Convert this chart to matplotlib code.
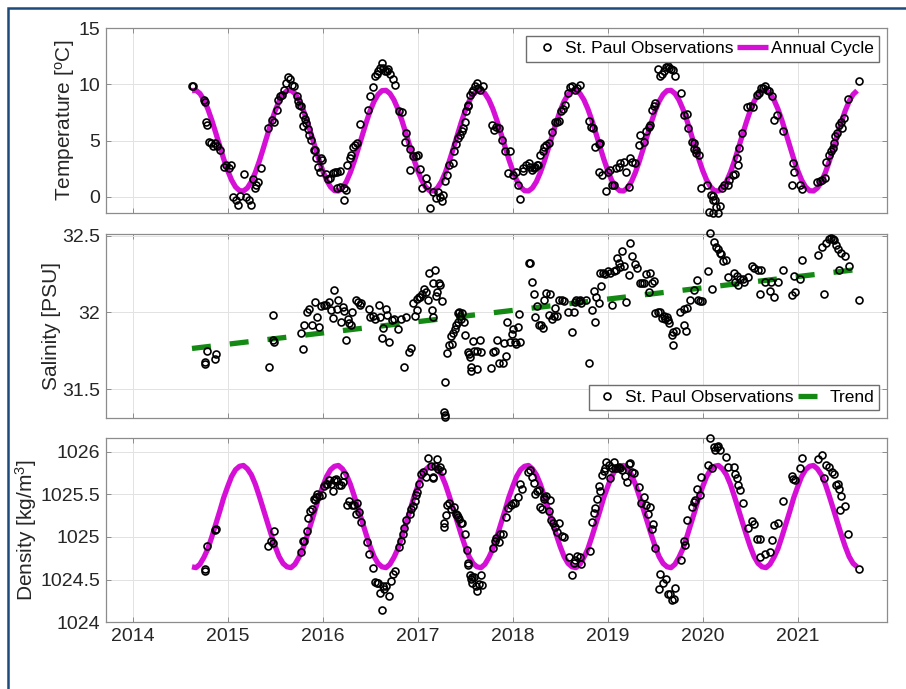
import numpy as np
import matplotlib
matplotlib.use('Agg')
import matplotlib.pyplot as plt
from matplotlib.patches import Rectangle

plt.rcParams['font.family'] = 'Liberation Sans'
plt.rcParams['mathtext.fontset'] = 'custom'
plt.rcParams['mathtext.rm'] = 'Liberation Sans'
plt.rcParams['mathtext.it'] = 'Liberation Sans:italic'

# St. Paul temperature observations (decimal year, degC)
temp_year = [
    2014.625, 2014.64, 2014.755, 2014.765, 2014.775, 2014.78, 2014.80, 2014.82, 2014.845, 2014.87, 2014.89, 2014.92,
    2014.96, 2014.985, 2015.01, 2015.035, 2015.06, 2015.09, 2015.105, 2015.13, 2015.17, 2015.195, 2015.22, 2015.245,
    2015.265, 2015.29, 2015.30, 2015.325, 2015.35, 2015.43, 2015.465, 2015.485, 2015.52, 2015.535, 2015.55, 2015.57,
    2015.595, 2015.615, 2015.64, 2015.66, 2015.675, 2015.70, 2015.73, 2015.745, 2015.755, 2015.77, 2015.79, 2015.795,
    2015.81, 2015.83, 2015.845, 2015.86, 2015.875, 2015.905, 2015.92, 2015.935, 2015.955, 2015.97, 2015.985, 2015.995,
    2016.04, 2016.06, 2016.08, 2016.105, 2016.13, 2016.155, 2016.18, 2016.15, 2016.185, 2016.22, 2016.25, 2016.225,
    2016.255, 2016.285, 2016.30, 2016.325, 2016.345, 2016.36, 2016.395, 2016.48, 2016.50, 2016.535, 2016.55, 2016.57,
    2016.585, 2016.605, 2016.62, 2016.64, 2016.655, 2016.675, 2016.69, 2016.71, 2016.74, 2016.76, 2016.80, 2016.835,
    2016.88, 2016.87, 2016.92, 2016.955, 2016.985, 2017.0, 2016.92, 2017.025, 2017.045, 2017.09, 2017.10, 2017.125,
    2017.165, 2017.19, 2017.215, 2017.24, 2017.27, 2017.255, 2017.29, 2017.31, 2017.335, 2017.37, 2017.385, 2017.40,
    2017.43, 2017.445, 2017.465, 2017.48, 2017.495, 2017.51, 2017.525, 2017.535, 2017.55, 2017.57, 2017.585, 2017.605,
    2017.62, 2017.64, 2017.655, 2017.69, 2017.78, 2017.805, 2017.83, 2017.86, 2017.885, 2017.92, 2017.97, 2017.955,
    2018.0, 2018.04, 2018.06, 2018.075, 2018.105, 2018.11, 2018.145, 2018.17, 2018.185, 2018.20, 2018.22, 2018.235,
    2018.255, 2018.27, 2018.29, 2018.32, 2018.335, 2018.355, 2018.38, 2018.415, 2018.45, 2018.465, 2018.49, 2018.505,
    2018.53, 2018.55, 2018.585, 2018.605, 2018.63, 2018.655, 2018.68, 2018.71, 2018.80, 2018.825, 2018.85, 2018.87,
    2018.905, 2018.92, 2018.905, 2018.94, 2018.985, 2019.0, 2019.03, 2019.045, 2019.07, 2019.09, 2019.115, 2019.135,
    2019.17, 2019.195, 2019.22, 2019.24, 2019.255, 2019.29, 2019.325, 2019.34, 2019.385, 2019.405, 2019.43, 2019.45,
    2019.465, 2019.485, 2019.50, 2019.535, 2019.555, 2019.57, 2019.595, 2019.615, 2019.64, 2019.65, 2019.665, 2019.685,
    2019.71, 2019.77, 2019.80, 2019.83, 2019.85, 2019.885, 2019.905, 2019.91, 2019.93, 2019.935, 2019.965, 2019.98,
    2020.05, 2020.085, 2020.105, 2020.11, 2020.13, 2020.145, 2020.07, 2020.105, 2020.165, 2020.185, 2020.20, 2020.22,
    2020.265, 2020.275, 2020.315, 2020.345, 2020.37, 2020.36, 2020.385, 2020.415, 2020.47, 2020.495, 2020.535, 2020.575,
    2020.595, 2020.61, 2020.63, 2020.66, 2020.675, 2020.70, 2020.725, 2020.75, 2020.78, 2020.85, 2020.95, 2020.96,
    2020.94, 2021.02, 2021.045, 2021.20, 2021.23, 2021.255, 2021.29, 2021.30, 2021.325, 2021.35, 2021.37, 2021.385,
    2021.395, 2021.41, 2021.44, 2021.455, 2021.465, 2021.49, 2021.535, 2021.65,
]
temp_obs = [
    9.9, 9.9, 8.65, 8.45, 6.7, 6.4, 4.85, 4.8, 4.5, 4.8, 4.5, 4.2,
    2.7, 2.85, 2.55, 2.8, -0.05, -0.25, -0.75, 0.1, 2.0, 0.0, -0.3, -0.75,
    1.6, 0.75, 1.05, 1.35, 2.6, 6.1, 6.85, 6.7, 7.75, 8.6, 8.95, 9.05,
    9.55, 10.15, 10.65, 10.45, 9.95, 9.9, 8.95, 8.5, 8.2, 8.05, 6.3, 7.3,
    6.9, 6.6, 6.0, 5.5, 5.1, 4.2, 4.2, 3.45, 2.7, 2.25, 3.45, 3.3,
    2.0, 1.6, 1.65, 2.1, 2.25, 2.25, 2.35, 0.8, 0.85, 0.75, 0.6, -0.3,
    2.85, 3.45, 3.75, 4.4, 4.6, 4.8, 6.5, 7.7, 8.95, 9.75, 10.75, 10.9,
    11.2, 11.5, 11.95, 11.45, 11.2, 11.2, 11.35, 10.95, 10.45, 9.95, 7.6, 7.55,
    5.7, 4.9, 4.3, 3.6, 3.6, 3.75, 2.4, 2.45, 0.75, 1.65, 1.1, -1.0,
    0.45, -0.1, 0.45, 0.0, 0.15, -0.4, 1.4, 1.95, 2.85, 3.0, 4.05, 4.7,
    5.2, 5.5, 5.9, 6.1, 6.7, 7.6, 8.05, 8.2, 9.1, 9.3, 9.55, 9.85,
    10.15, 9.7, 9.55, 9.85, 6.4, 5.95, 6.25, 6.1, 5.05, 4.1, 4.05, 2.1,
    1.95, 2.25, 1.05, -0.15, 2.3, 2.55, 2.85, 3.0, 2.7, 2.4, 2.55, 2.7,
    2.85, 2.85, 3.75, 4.1, 4.4, 4.65, 4.8, 5.8, 6.7, 6.65, 6.75, 7.65,
    7.8, 8.2, 9.25, 9.75, 9.85, 9.55, 9.7, 9.95, 6.75, 6.25, 6.1, 4.4,
    4.7, 4.8, 2.25, 1.95, 0.5, 2.25, 2.4, 1.05, 1.05, 2.6, 2.7, 3.0,
    3.15, 2.25, 0.9, 3.45, 3.15, 3.0, 4.6, 5.5, 4.9, 5.9, 6.25, 6.4,
    7.75, 8.05, 8.35, 11.35, 10.75, 10.9, 11.2, 11.55, 11.65, 11.5, 11.35, 11.25,
    10.75, 9.25, 7.3, 7.35, 6.1, 4.9, 4.8, 4.3, 4.2, 3.9, 3.75, 0.8,
    1.05, 0.15, 0.1, -0.3, -0.3, -0.9, -1.3, -1.4, -1.4, -0.8, 0.75, 1.1,
    1.1, 1.5, 1.95, 2.0, 2.85, 3.45, 4.35, 5.7, 8.0, 8.1, 8.0, 9.1,
    9.25, 9.7, 9.7, 9.85, 9.55, 9.45, 8.95, 6.85, 7.3, 5.85, 3.0, 2.25,
    1.1, 1.05, 0.7, 1.35, 1.4, 1.5, 1.7, 3.1, 3.75, 4.05, 4.35, 4.8,
    5.4, 5.7, 6.4, 6.7, 6.1, 7.0, 8.75, 10.3,
]

# St. Paul salinity observations (decimal year, PSU)
sal_year = [
    2014.78, 2014.765, 2014.765, 2014.88, 2014.87, 2015.475, 2015.475, 2015.485, 2015.44, 2015.77, 2015.79, 2015.80,
    2015.835, 2015.855, 2015.89, 2015.915, 2015.94, 2015.96, 2015.985, 2016.01, 2016.04, 2016.065, 2016.09, 2016.11,
    2016.12, 2016.15, 2016.16, 2016.19, 2016.21, 2016.23, 2016.245, 2016.265, 2016.28, 2016.31, 2016.30, 2016.355,
    2016.37, 2016.39, 2016.405, 2016.485, 2016.50, 2016.535, 2016.555, 2016.59, 2016.605, 2016.62, 2016.64, 2016.665,
    2016.68, 2016.70, 2016.728, 2016.75, 2016.795, 2016.83, 2016.855, 2016.875, 2016.91, 2016.935, 2016.955, 2016.97,
    2016.99, 2016.995, 2017.015, 2017.03, 2017.05, 2017.065, 2017.085, 2017.11, 2017.12, 2017.155, 2017.165, 2017.185,
    2017.195, 2017.20, 2017.22, 2017.235, 2017.255, 2017.16, 2017.29, 2017.28, 2017.29, 2017.29, 2017.31, 2017.335,
    2017.36, 2017.35, 2017.375, 2017.395, 2017.40, 2017.43, 2017.43, 2017.44, 2017.45, 2017.46, 2017.465, 2017.49,
    2017.50, 2017.525, 2017.54, 2017.55, 2017.565, 2017.56, 2017.585, 2017.595, 2017.62, 2017.63, 2017.655, 2017.67,
    2017.775, 2017.79, 2017.81, 2017.84, 2017.855, 2017.90, 2017.91, 2017.935, 2017.945, 2017.97, 2017.99, 2018.0,
    2018.02, 2018.035, 2018.055, 2018.07, 2018.08, 2018.17, 2018.187, 2018.204, 2018.222, 2018.24, 2018.257, 2018.274,
    2018.30, 2018.32, 2018.334, 2018.355, 2018.38, 2018.39, 2018.415, 2018.432, 2018.45, 2018.467, 2018.485, 2018.52,
    2018.544, 2018.58, 2018.625, 2018.642, 2018.66, 2018.67, 2018.695, 2018.712, 2018.72, 2018.776, 2018.80, 2018.835,
    2018.853, 2018.87, 2018.88, 2018.905, 2018.916, 2018.93, 2018.95, 2018.975, 2019.0, 2019.02, 2019.046, 2019.07,
    2019.09, 2019.098, 2019.116, 2019.133, 2019.15, 2019.175, 2019.196, 2019.22, 2019.238, 2019.256, 2019.29, 2019.308,
    2019.336, 2019.36, 2019.386, 2019.407, 2019.43, 2019.45, 2019.466, 2019.484, 2019.50, 2019.525, 2019.55, 2019.57,
    2019.59, 2019.605, 2019.625, 2019.64, 2019.65, 2019.676, 2019.69, 2019.687, 2019.72, 2019.765, 2019.806, 2019.827,
    2019.80, 2019.834, 2019.87, 2019.905, 2019.94, 2019.946, 2019.975, 2019.99, 2020.06, 2020.095, 2020.08, 2020.115,
    2020.143, 2020.157, 2020.178, 2020.195, 2020.213, 2020.248, 2020.27, 2020.325, 2020.34, 2020.36, 2020.375, 2020.395,
    2020.42, 2020.437, 2020.48, 2020.52, 2020.537, 2020.58, 2020.60, 2020.61, 2020.658, 2020.71, 2020.72, 2020.755,
    2020.79, 2020.845, 2020.94, 2020.96, 2020.976, 2021.022, 2021.046, 2021.21, 2021.254, 2021.30, 2021.335, 2021.35,
    2021.37, 2021.385, 2021.405, 2021.42, 2021.455, 2021.50, 2021.44, 2021.545, 2021.28, 2021.65,
]
sal_obs = [
    31.75, 31.68, 31.665, 31.73, 31.695, 31.985, 31.82, 31.805, 31.645, 31.865, 31.76, 31.92,
    32.0, 32.02, 31.92, 32.065, 31.97, 31.905, 32.04, 32.05, 32.05, 32.07, 32.015, 31.965,
    32.145, 32.025, 32.08, 31.94, 32.035, 32.01, 31.82, 31.96, 31.93, 32.0, 31.915, 32.08,
    32.07, 32.05, 32.06, 32.025, 31.97, 31.98, 31.955, 32.05, 31.97, 31.835, 31.9, 32.025,
    31.985, 31.81, 31.95, 31.96, 31.89, 31.96, 31.645, 31.97, 31.74, 31.765, 32.06, 31.98,
    32.015, 32.09, 32.1, 32.1, 32.12, 32.155, 32.135, 32.08, 32.255, 32.015, 32.19, 32.275,
    32.11, 32.135, 32.19, 32.18, 32.075, 31.97, 31.545, 31.35, 31.33, 31.315, 31.735, 31.79,
    31.795, 31.845, 31.865, 31.895, 31.92, 31.935, 31.995, 32.005, 31.975, 31.955, 31.995, 31.935,
    31.855, 31.745, 31.73, 31.71, 31.645, 31.615, 31.815, 31.75, 31.63, 31.75, 31.82, 31.74,
    31.64, 31.74, 31.75, 31.82, 31.67, 31.67, 31.8, 31.715, 31.94, 31.805, 31.86, 31.89,
    31.805, 31.795, 31.905, 31.99, 31.805, 32.32, 32.325, 32.2, 32.12, 31.97, 32.04, 31.92,
    31.915, 31.9, 32.08, 32.13, 31.985, 32.12, 31.96, 31.975, 32.03, 31.975, 32.08, 32.08,
    32.075, 32.0, 31.87, 32.0, 32.07, 32.08, 32.075, 32.08, 32.06, 32.08, 31.67, 32.015,
    32.14, 31.94, 32.1, 32.06, 32.255, 32.17, 32.26, 32.25, 32.27, 32.255, 32.05, 32.27,
    32.28, 32.355, 32.32, 32.295, 32.4, 32.3, 32.07, 32.245, 32.45, 32.37, 32.315, 32.29,
    32.19, 32.19, 32.19, 32.25, 32.135, 32.26, 32.19, 32.205, 31.995, 32.005, 32.005, 31.965,
    31.98, 31.955, 31.97, 31.95, 31.93, 31.85, 31.875, 31.785, 31.88, 32.0, 31.915, 31.88,
    32.025, 32.03, 32.08, 32.145, 32.21, 32.08, 32.075, 32.075, 32.27, 32.155, 32.515, 32.46,
    32.43, 32.415, 32.39, 32.38, 32.335, 32.34, 32.23, 32.26, 32.2, 32.24, 32.18, 32.22,
    32.22, 32.2, 32.23, 32.3, 32.29, 32.28, 32.12, 32.28, 32.2, 32.14, 32.2, 32.1,
    32.2, 32.275, 32.115, 32.235, 32.135, 32.215, 32.34, 32.375, 32.43, 32.45, 32.48, 32.485,
    32.48, 32.475, 32.44, 32.415, 32.385, 32.365, 32.275, 32.30, 32.12, 32.08,
]

# St. Paul density observations (decimal year, kg/m^3)
dens_year = [
    2014.765, 2014.765, 2014.78, 2014.87, 2014.88, 2015.43, 2015.455, 2015.475, 2015.485, 2015.77, 2015.79, 2015.805,
    2015.84, 2015.85, 2015.87, 2015.885, 2015.905, 2015.92, 2015.93, 2015.945, 2015.965, 2015.99, 2016.016, 2016.037,
    2016.05, 2016.072, 2016.085, 2016.105, 2016.12, 2016.14, 2016.155, 2016.175, 2016.19, 2016.21, 2016.225, 2016.255,
    2016.28, 2016.307, 2016.33, 2016.35, 2016.365, 2016.386, 2016.40, 2016.47, 2016.49, 2016.526, 2016.55, 2016.57,
    2016.587, 2016.605, 2016.634, 2016.62, 2016.645, 2016.668, 2016.703, 2016.717, 2016.745, 2016.763, 2016.80, 2016.825,
    2016.847, 2016.86, 2016.88, 2016.915, 2016.93, 2016.95, 2016.973, 2016.984, 2016.998, 2017.018, 2017.032, 2017.053,
    2017.088, 2017.113, 2017.137, 2017.158, 2017.165, 2017.183, 2017.20, 2017.218, 2017.235, 2017.253, 2017.278, 2017.278,
    2017.30, 2017.305, 2017.33, 2017.355, 2017.38, 2017.40, 2017.415, 2017.425, 2017.44, 2017.457, 2017.467, 2017.50,
    2017.515, 2017.525, 2017.535, 2017.55, 2017.56, 2017.576, 2017.57, 2017.595, 2017.612, 2017.63, 2017.647, 2017.665,
    2017.68, 2017.797, 2017.815, 2017.83, 2017.86, 2017.872, 2017.90, 2017.93, 2017.953, 2017.978, 2018.007, 2018.025,
    2018.06, 2018.077, 2018.095, 2018.16, 2018.18, 2018.205, 2018.22, 2018.24, 2018.256, 2018.273, 2018.29, 2018.308,
    2018.326, 2018.333, 2018.354, 2018.378, 2018.388, 2018.40, 2018.42, 2018.445, 2018.462, 2018.49, 2018.515, 2018.54,
    2018.59, 2018.625, 2018.642, 2018.66, 2018.677, 2018.705, 2018.72, 2018.81, 2018.835, 2018.853, 2018.87, 2018.888,
    2018.905, 2018.923, 2018.94, 2018.958, 2018.975, 2018.986, 2019.01, 2019.028, 2019.046, 2019.063, 2019.08, 2019.098,
    2019.116, 2019.133, 2019.15, 2019.186, 2019.203, 2019.22, 2019.238, 2019.256, 2019.28, 2019.326, 2019.35, 2019.385,
    2019.407, 2019.42, 2019.45, 2019.466, 2019.476, 2019.50, 2019.536, 2019.554, 2019.582, 2019.617, 2019.64, 2019.66,
    2019.676, 2019.694, 2019.71, 2019.77, 2019.806, 2019.816, 2019.84, 2019.887, 2019.905, 2019.922, 2019.94, 2019.968,
    2019.983, 2020.06, 2020.096, 2020.08, 2020.115, 2020.13, 2020.15, 2020.165, 2020.185, 2020.248, 2020.27, 2020.325,
    2020.34, 2020.36, 2020.375, 2020.395, 2020.42, 2020.48, 2020.52, 2020.537, 2020.572, 2020.607, 2020.60, 2020.66,
    2020.71, 2020.73, 2020.755, 2020.79, 2020.845, 2020.94, 2020.956, 2020.976, 2021.02, 2021.046, 2021.21, 2021.254,
    2021.30, 2021.335, 2021.36, 2021.385, 2021.28, 2021.405, 2021.42, 2021.44, 2021.455, 2021.50, 2021.45, 2021.535,
    2021.65,
]
dens_obs = [
    1024.625, 1024.595, 1024.9, 1025.08, 1025.095, 1024.89, 1024.955, 1024.925, 1025.07, 1024.82, 1024.955, 1024.955,
    1025.065, 1025.22, 1025.305, 1025.33, 1025.445, 1025.435, 1025.475, 1025.5, 1025.485, 1025.49, 1025.6, 1025.62,
    1025.625, 1025.67, 1025.62, 1025.54, 1025.67, 1025.68, 1025.655, 1025.61, 1025.61, 1025.65, 1025.73, 1025.37,
    1025.42, 1025.37, 1025.37, 1025.265, 1025.4, 1025.29, 1025.18, 1024.94, 1024.8, 1024.64, 1024.475, 1024.455,
    1024.465, 1024.34, 1024.43, 1024.145, 1024.385, 1024.42, 1024.31, 1024.48, 1024.56, 1024.6, 1024.885, 1024.95,
    1025.03, 1025.1, 1025.2, 1025.27, 1025.33, 1025.36, 1025.42, 1025.49, 1025.53, 1025.62, 1025.735, 1025.76,
    1025.71, 1025.93, 1025.83, 1025.7, 1025.69, 1025.83, 1025.92, 1025.8, 1025.82, 1025.78, 1025.16, 1025.12,
    1025.26, 1025.37, 1025.4, 1025.33, 1025.35, 1025.265, 1025.26, 1025.24, 1025.21, 1025.17, 1025.16, 1025.03,
    1024.85, 1024.7, 1024.67, 1024.55, 1024.51, 1024.525, 1024.46, 1024.535, 1024.42, 1024.37, 1024.45, 1024.555,
    1024.44, 1024.875, 1024.955, 1024.985, 1024.94, 1025.03, 1025.04, 1025.24, 1025.345, 1025.37, 1025.395, 1025.405,
    1025.47, 1025.62, 1025.56, 1025.765, 1025.785, 1025.71, 1025.63, 1025.51, 1025.54, 1025.55, 1025.355, 1025.33,
    1025.47, 1025.445, 1025.485, 1025.305, 1025.435, 1025.2, 1025.16, 1025.12, 1025.06, 1025.17, 1025.015, 1025.005,
    1024.77, 1024.55, 1024.69, 1024.73, 1024.78, 1024.77, 1024.68, 1024.83, 1025.18, 1025.28, 1025.34, 1025.445,
    1025.6, 1025.54, 1025.73, 1025.77, 1025.805, 1025.875, 1025.85, 1025.69, 1025.81, 1025.875, 1025.805, 1025.805,
    1025.825, 1025.81, 1025.785, 1025.72, 1025.64, 1025.855, 1025.865, 1025.765, 1025.755, 1025.59, 1025.395, 1025.47,
    1025.375, 1025.265, 1025.355, 1025.095, 1025.15, 1024.87, 1024.39, 1024.56, 1024.455, 1024.505, 1024.33, 1024.33,
    1024.26, 1024.27, 1024.405, 1024.73, 1024.95, 1024.91, 1025.2, 1025.355, 1025.415, 1025.435, 1025.565, 1025.495,
    1025.71, 1025.85, 1025.805, 1026.165, 1026.06, 1026.02, 1026.06, 1026.07, 1026.02, 1025.94, 1025.825, 1025.825,
    1025.745, 1025.695, 1025.61, 1025.55, 1025.395, 1025.11, 1025.19, 1025.15, 1024.98, 1024.98, 1024.76, 1024.8,
    1024.82, 1024.96, 1025.14, 1025.165, 1025.42, 1025.72, 1025.68, 1025.67, 1025.805, 1025.93, 1025.92, 1025.965,
    1025.85, 1025.82, 1025.765, 1025.735, 1025.695, 1025.61, 1025.62, 1025.56, 1025.48, 1025.36, 1025.32, 1025.04,
    1024.63,
]

# Annual cycle climatology, read at half-month steps (Jan 1 = step 0)
temp_clim = [2.36, 1.50, 0.89, 0.56, 0.53, 0.80, 1.36, 2.17, 3.17, 4.30, 5.47, 6.61,
             7.65, 8.50, 9.11, 9.45, 9.48, 9.20, 8.64, 7.83, 6.83, 5.70, 4.53, 3.39]
dens_clim = [1025.59, 1025.71, 1025.79, 1025.83, 1025.84, 1025.80, 1025.73, 1025.62,
             1025.48, 1025.33, 1025.18, 1025.03, 1024.89, 1024.77, 1024.69, 1024.65,
             1024.64, 1024.68, 1024.76, 1024.86, 1025.00, 1025.15, 1025.30, 1025.46]
cycle_years = [2014, 2015, 2016, 2017, 2018, 2019, 2020, 2021]
cycle_start, cycle_end = 2014.625, 2021.625

# Salinity linear trend end points
trend_year = [2014.625, 2021.625]
trend_sal = [31.765, 32.28]

year_ticks = [2014, 2015, 2016, 2017, 2018, 2019, 2020, 2021]

MAG = '#d60fd6'
GRN = '#148a14'

# tile the climatology over the record
steps = np.arange(24) / 24.0
cyc_x = (np.array(cycle_years)[:, None] + steps[None, :]).ravel()
keep = (cyc_x >= cycle_start - 1e-6) & (cyc_x <= cycle_end + 1e-6)
cyc_x = cyc_x[keep]
temp_cyc = np.tile(temp_clim, len(cycle_years))[keep]
dens_cyc = np.tile(dens_clim, len(cycle_years))[keep]

fig = plt.figure(figsize=(9.06, 6.89), dpi=100)
ax1 = fig.add_axes([0.117, 0.691, 0.862, 0.268])
ax2 = fig.add_axes([0.117, 0.393, 0.862, 0.267])
ax3 = fig.add_axes([0.117, 0.097, 0.862, 0.267])


def style(ax, ylim, yticks, yticklabels=None):
    ax.set_xlim(2013.72, 2021.94)
    ax.set_xticks(year_ticks)
    ax.set_ylim(*ylim)
    ax.set_yticks(yticks)
    if yticklabels is not None:
        ax.set_yticklabels(yticklabels)
    ax.grid(True, color='#e2e2e2', linewidth=0.7)
    ax.set_axisbelow(True)
    ax.tick_params(direction='in', top=True, right=True, length=3.5, width=0.7,
                   color='#8c8c8c', labelsize=14, labelcolor='#262626', pad=4)
    for sp in ax.spines.values():
        sp.set_color('#8c8c8c')
        sp.set_linewidth(0.9)


obs_kw = dict(linestyle='none', marker='o', mfc='none', mec='black', ms=5.0, mew=1.2,
              clip_on=False, zorder=4)

# Temperature
ax1.plot(cyc_x, temp_cyc, color=MAG, lw=3.8, solid_capstyle='butt', zorder=3, label='Annual Cycle')
ax1.plot(temp_year, temp_obs, label='St. Paul Observations', **obs_kw)
style(ax1, (-1.42, 15), [0, 5, 10, 15])
ax1.set_xticklabels([])
ax1.set_ylabel(r'Temperature [$^{\rm o}$C]', fontsize=15, color='#262626', labelpad=1)
h, l = ax1.get_legend_handles_labels()
ax1.legend(h[::-1], l[::-1], loc='upper right', ncol=2, fontsize=12.5, fancybox=False,
           edgecolor='#6e6e6e', framealpha=1, handlelength=1.8, handletextpad=0.15,
           columnspacing=0.2, borderpad=0.3, borderaxespad=0.45)

# Salinity
ax2.plot(trend_year, trend_sal, color=GRN, lw=3.8, dashes=(3.6, 3.6), dash_capstyle='butt',
         zorder=3, label='Trend')
ax2.plot(sal_year, sal_obs, label='St. Paul Observations', **obs_kw)
style(ax2, (31.31, 32.51), [31.5, 32, 32.5], ['31.5', '32', '32.5'])
ax2.set_xticklabels([])
ax2.set_ylabel('Salinity [PSU]', fontsize=15, color='#262626', labelpad=1)
h, l = ax2.get_legend_handles_labels()
ax2.legend(h[::-1], l[::-1], loc='lower right', ncol=2, fontsize=12.5, fancybox=False,
           edgecolor='#6e6e6e', framealpha=1, handlelength=1.5, handletextpad=0.3,
           columnspacing=0.25, borderpad=0.3, borderaxespad=0.45)

# Density
ax3.plot(cyc_x, dens_cyc, color=MAG, lw=3.8, solid_capstyle='butt', zorder=3)
ax3.plot(dens_year, dens_obs, **obs_kw)
style(ax3, (1024, 1026.16), [1024, 1024.5, 1025, 1025.5, 1026],
      ['1024', '1024.5', '1025', '1025.5', '1026'])
ax3.set_xticklabels([str(y) for y in year_ticks])
ax3.set_ylabel(r'Density [kg/m$^3$]', fontsize=15, color='#262626', labelpad=1)

# dark blue frame around the panel
fig.add_artist(Rectangle((7.5 / 906, -0.1), 1.0, 1 - 7.5 / 689 + 0.1,
                         transform=fig.transFigure, fill=False,
                         edgecolor='#1d4a7c', linewidth=1.8, clip_on=False))

fig.savefig('out.png', dpi=100)
